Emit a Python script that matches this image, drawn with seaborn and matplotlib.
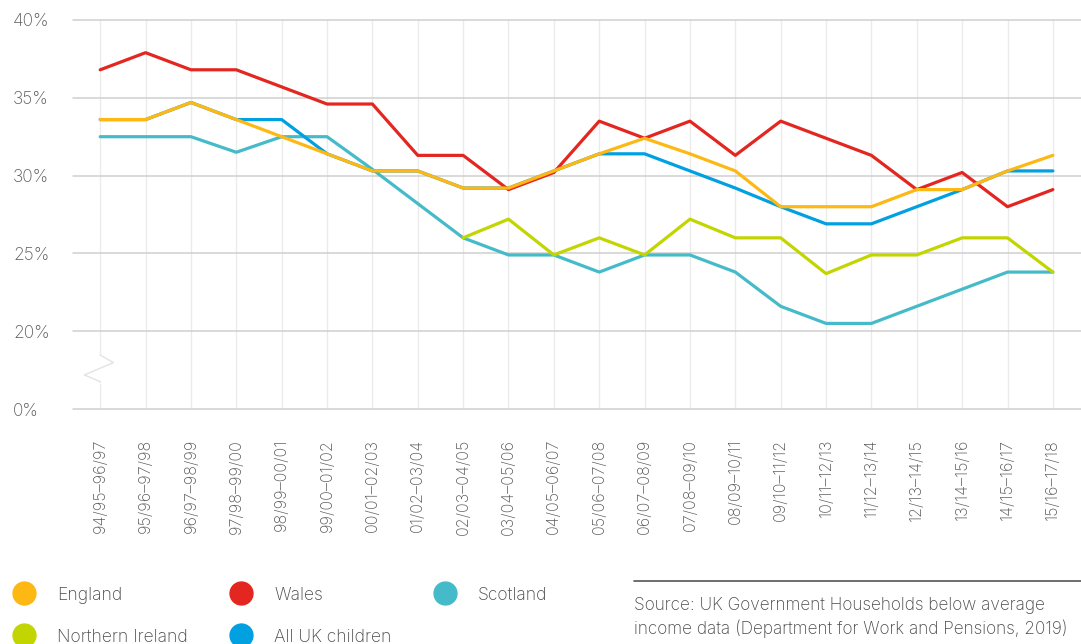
import numpy as np
import pandas as pd
import matplotlib
matplotlib.use("Agg")
import matplotlib.pyplot as plt
from matplotlib.lines import Line2D
import seaborn as sns

periods = ["94/95–96/97", "95/96–97/98", "96/97–98/99", "97/98–99/00", "98/99–00/01",
           "99/00–01/02", "00/01–02/03", "01/02–03/04", "02/03–04/05", "03/04–05/06",
           "04/05–06/07", "05/06–07/08", "06/07–08/09", "07/08–09/10", "08/09–10/11",
           "09/10–11/12", "10/11–12/13", "11/12–13/14", "12/13–14/15", "13/14–15/16",
           "14/15–16/17", "15/16–17/18"]

england = [33.6, 33.6, 34.7, 33.6, 32.5, 31.4, 30.3, 30.3, 29.2, 29.2, 30.3,
           31.4, 32.4, 31.4, 30.3, 28.0, 28.0, 28.0, 29.1, 29.1, 30.3, 31.3]
wales = [36.8, 37.9, 36.8, 36.8, 35.7, 34.6, 34.6, 31.3, 31.3, 29.1, 30.2,
         33.5, 32.4, 33.5, 31.3, 33.5, 32.4, 31.3, 29.1, 30.2, 28.0, 29.1]
scotland = [32.5, 32.5, 32.5, 31.5, 32.5, 32.5, 30.4, 28.2, 26.0, 24.9, 24.9,
            23.8, 24.9, 24.9, 23.8, 21.6, 20.5, 20.5, 21.6, 22.7, 23.8, 23.8]
northern_ireland = [None, None, None, None, None, None, None, None, 26.0, 27.2, 24.9,
                    26.0, 24.9, 27.2, 26.0, 26.0, 23.7, 24.9, 24.9, 26.0, 26.0, 23.8]
all_uk = [33.6, 33.6, 34.7, 33.6, 33.6, 31.4, 30.3, 30.3, 29.2, 29.2, 30.3,
          31.4, 31.4, 30.3, 29.2, 28.0, 26.9, 26.9, 28.0, 29.1, 30.3, 30.3]

y_ticks = [15, 20, 25, 30, 35, 40]
y_tick_labels = ["0%", "20%", "25%", "30%", "35%", "40%"]

series = {"England": england, "Wales": wales, "Scotland": scotland,
          "Northern Ireland": northern_ireland, "All UK children": all_uk}
colors = {"England": "#FDB813", "Wales": "#E42620", "Scotland": "#45BBC9",
          "Northern Ireland": "#C3D500", "All UK children": "#00A0E1"}
draw_order = ["Scotland", "Northern Ireland", "All UK children", "Wales", "England"]

rows = []
for name, vals in series.items():
    for i, (p, v) in enumerate(zip(periods, vals)):
        if v is not None:
            rows.append({"pos": i, "period": p, "series": name, "value": v})
df = pd.DataFrame(rows)

sns.set_theme(style="white")
plt.rcParams["font.family"] = ["Inter", "DejaVu Sans"]
plt.rcParams["font.weight"] = "light"

W, H = 1081, 644
fig = plt.figure(figsize=(W / 100, H / 100), dpi=100)
ax = fig.add_axes([73 / W, (H - 409) / H, (W - 73) / W, (409 - 20) / H])

sns.lineplot(data=df, x="pos", y="value", hue="series", hue_order=draw_order,
             palette=colors, linewidth=2.3, legend=False, ax=ax,
             estimator=None, errorbar=None, sort=True)

ax.set_xlim(-0.6, len(periods) - 1 + 0.62)
ax.set_ylim(15, 40)
ax.set_yticks(y_ticks)
ax.set_yticklabels(y_tick_labels)
ax.set_xticks(range(len(periods)))
ax.set_xticklabels(periods, rotation=90, ha="center", va="top")
ax.set_xlabel("")
ax.set_ylabel("")
for s in ax.spines.values():
    s.set_visible(False)

ax.tick_params(axis="y", length=0, pad=43.2, labelsize=12.5, labelcolor="#5a5a5a")
ax.tick_params(axis="x", length=0, pad=21.5, labelsize=11.6, labelcolor="#5a5a5a")
for lab in ax.get_yticklabels():
    lab.set_ha("left")

ax.grid(axis="x", color="#ebebeb", linewidth=1.0)
ax.grid(axis="y", color="#cfcfcf", linewidth=1.1)
for gl in ax.get_ygridlines():
    gl.set_clip_on(False)
ax.set_axisbelow(True)

# axis break symbol on first vertical gridline
ax.plot([0, 0], [16.76, 18.47], color="white", linewidth=2.5, zorder=1.5)
ax.plot([0, 0, 0.29, -0.35, 0, 0], [18.5, 18.47, 17.98, 17.19, 16.76, 16.7],
        color="#e3e3e3", linewidth=1.0, zorder=1.6)

# legend
legend_items = [("England", 28, 593), ("Wales", 245, 593), ("Scotland", 449, 593),
                ("Northern Ireland", 28, 635), ("All UK children", 245, 635)]
for name, px, py in legend_items:
    fig.add_artist(Line2D([(px - 4) / W], [1 - py / H], transform=fig.transFigure,
                          marker="o", markersize=16.5, color=colors[name],
                          linestyle="none"))
    fig.text((px + 29) / W, 1 - (py + 6.5) / H, name, fontsize=12.6, color="#4a4a4a",
             ha="left", va="baseline")

# source
fig.add_artist(Line2D([634 / W, 1.0], [1 - 581 / H, 1 - 581 / H],
                      transform=fig.transFigure, color="#555555", linewidth=1.2))
fig.text(634 / W, 1 - 610 / H, "Source: UK Government Households below average",
         fontsize=12.4, color="#4a4a4a", ha="left", va="baseline")
fig.text(634 / W, 1 - 634 / H, "income data (Department for Work and Pensions, 2019)",
         fontsize=12.4, color="#4a4a4a", ha="left", va="baseline")

fig.savefig("out.png", dpi=100)
